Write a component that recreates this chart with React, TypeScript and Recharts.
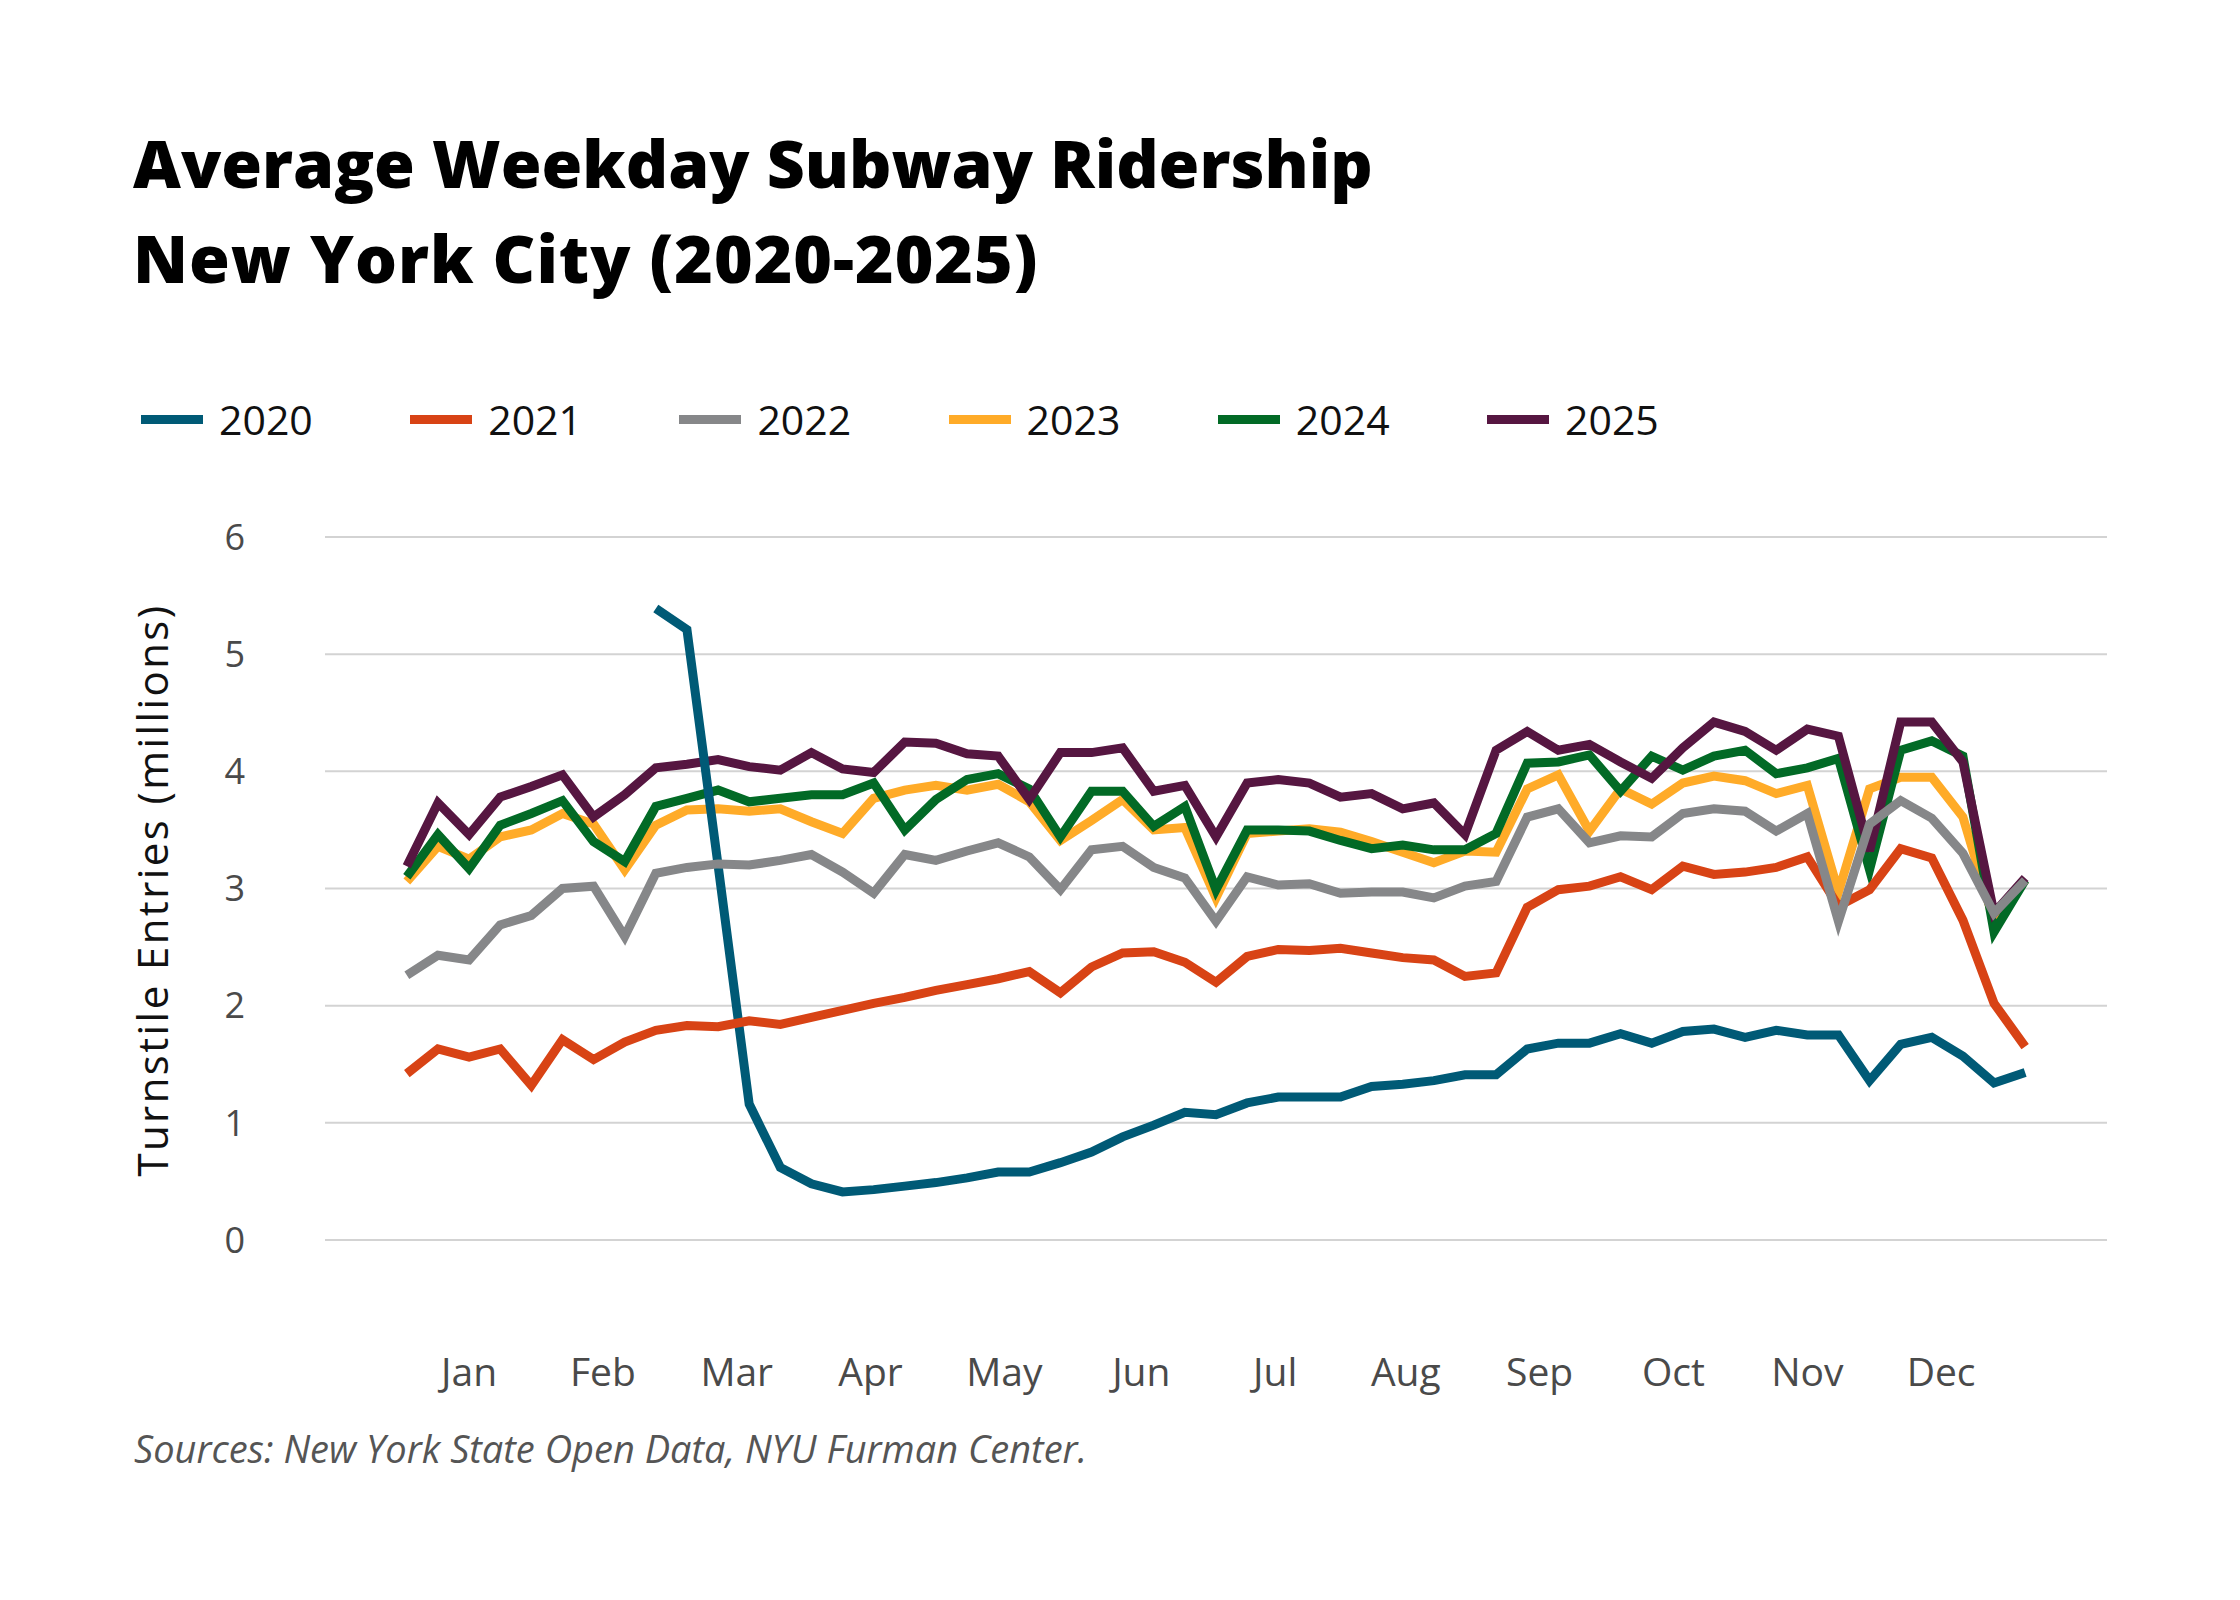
import React from "react";
import { LineChart, Line, XAxis, YAxis, CartesianGrid } from "recharts";

// weekly averages, week 0 = first week of January
const y2020 = [
  null, null, null, null, null, null, null, null, 5.39, 5.21,
  3.2, 1.16, 0.62, 0.48, 0.41, 0.43, 0.46, 0.49, 0.53, 0.58,
  0.58, 0.66, 0.75, 0.88, 0.98, 1.09, 1.07, 1.17, 1.22, 1.22,
  1.22, 1.31, 1.33, 1.36, 1.41, 1.41, 1.63, 1.68, 1.68, 1.76,
  1.68, 1.78, 1.8, 1.73, 1.79, 1.75, 1.75, 1.36, 1.67, 1.73,
  1.57, 1.34, 1.43,
];
const y2021 = [
  1.42, 1.63, 1.56, 1.63, 1.32, 1.71, 1.54, 1.69, 1.79, 1.83,
  1.82, 1.87, 1.84, 1.9, 1.96, 2.02, 2.07, 2.13, 2.18, 2.23,
  2.29, 2.11, 2.33, 2.45, 2.46, 2.37, 2.2, 2.42, 2.48, 2.47,
  2.49, 2.45, 2.41, 2.39, 2.25, 2.28, 2.84, 2.99, 3.02, 3.1,
  2.99, 3.19, 3.12, 3.14, 3.18, 3.27, 2.85, 2.99, 3.34, 3.26,
  2.73, 2.02, 1.65,
];
const y2022 = [
  2.26, 2.43, 2.39, 2.69, 2.77, 3.0, 3.02, 2.59, 3.13, 3.18,
  3.21, 3.2, 3.24, 3.29, 3.14, 2.96, 3.29, 3.24, 3.32, 3.39,
  3.27, 2.99, 3.33, 3.36, 3.18, 3.09, 2.72, 3.1, 3.03, 3.04,
  2.96, 2.97, 2.97, 2.92, 3.02, 3.06, 3.61, 3.68, 3.39, 3.45,
  3.44, 3.64, 3.68, 3.66, 3.49, 3.64, 2.72, 3.55, 3.75, 3.6,
  3.3, 2.79, 3.07,
];
const y2023 = [
  3.06, 3.36, 3.25, 3.44, 3.5, 3.64, 3.55, 3.16, 3.54, 3.67,
  3.68, 3.66, 3.68, 3.57, 3.47, 3.77, 3.84, 3.88, 3.84, 3.89,
  3.74, 3.41, 3.58, 3.76, 3.5, 3.52, 2.92, 3.47, 3.49, 3.51,
  3.48, 3.4, 3.31, 3.22, 3.32, 3.31, 3.85, 3.97, 3.49, 3.85,
  3.72, 3.9, 3.96, 3.92, 3.81, 3.88, 2.97, 3.85, 3.95, 3.95,
  3.61, 2.72, 3.07,
];
const y2024 = [
  3.1, 3.46, 3.17, 3.54, 3.64, 3.75, 3.4, 3.23, 3.7, 3.77,
  3.84, 3.74, 3.77, 3.8, 3.8, 3.9, 3.5, 3.76, 3.93, 3.98,
  3.85, 3.44, 3.83, 3.83, 3.53, 3.7, 2.99, 3.5, 3.5, 3.49,
  3.41, 3.34, 3.37, 3.33, 3.33, 3.47, 4.07, 4.08, 4.14, 3.83,
  4.13, 4.01, 4.13, 4.18, 3.98, 4.03, 4.11, 3.16, 4.18, 4.26,
  4.13, 2.63, 3.07,
];
const y2025 = [
  3.19, 3.73, 3.46, 3.78, 3.87, 3.97, 3.61, 3.8, 4.03, 4.06,
  4.1, 4.04, 4.01, 4.16, 4.02, 3.99, 4.25, 4.24, 4.15, 4.13,
  3.76, 4.16, 4.16, 4.2, 3.83, 3.88, 3.44, 3.9, 3.93, 3.9,
  3.78, 3.81, 3.68, 3.73, 3.46, 4.18, 4.34, 4.18, 4.23, 4.08,
  3.94, 4.2, 4.42, 4.34, 4.18, 4.36, 4.3, 3.32, 4.42, 4.42,
  4.08, 2.79, 3.09,
];

const months = ["Jan", "Feb", "Mar", "Apr", "May", "Jun", "Jul", "Aug", "Sep", "Oct", "Nov", "Dec"];
// mid-month position, in weeks
const monthTicks = [2, 6.3, 10.6, 14.9, 19.2, 23.6, 27.9, 32.1, 36.4, 40.7, 45, 49.3];
const yTicks = [0, 1, 2, 3, 4, 5, 6];

const series = [
  { key: "2020", values: y2020, color: "#005a76" },
  { key: "2021", values: y2021, color: "#d84315" },
  { key: "2022", values: y2022, color: "#868789" },
  { key: "2023", values: y2023, color: "#ffab28" },
  { key: "2024", values: y2024, color: "#026a26" },
  { key: "2025", values: y2025, color: "#561641" },
];
// paint order seen in the picture
const drawOrder = ["2023", "2024", "2025", "2020", "2021", "2022"];

const data = y2021.map((_, i) => {
  const row: any = { week: i };
  series.forEach((s) => {
    row[s.key] = s.values[i];
  });
  return row;
});

const font = "'Open Sans', sans-serif";

export default function App() {
  return (
    <div style={{ position: "relative", width: 2240, height: 1600, background: "#fff", fontFamily: font }}>
      <style>{`body{margin:0}`}</style>
      <div
        style={{
          position: "absolute",
          left: 133,
          top: 115,
          fontSize: 66,
          lineHeight: "95px",
          fontWeight: 800,
          color: "#000",
          whiteSpace: "nowrap",
        }}
      >
        <div>Average Weekday Subway Ridership</div>
        <div style={{ letterSpacing: 1 }}>New York City (2020-2025)</div>
      </div>

      {series.map((s, k) => (
        <div
          key={s.key}
          style={{
            position: "absolute",
            left: 141 + k * 269.2,
            top: 399,
            height: 40,
            display: "flex",
            alignItems: "center",
          }}
        >
          <div style={{ width: 62, height: 9, background: s.color, marginRight: 16 }} />
          <span style={{ fontSize: 41, lineHeight: "40px", color: "#111" }}>{s.key}</span>
        </div>
      ))}

      <div
        style={{
          position: "absolute",
          left: 152 - 350,
          top: 890 - 30,
          width: 700,
          height: 60,
          lineHeight: "60px",
          textAlign: "center",
          fontSize: 42,
          letterSpacing: 2.4,
          color: "#111",
          transform: "rotate(-90deg)",
          whiteSpace: "nowrap",
        }}
      >
        Turnstile Entries (millions)
      </div>

      <div
        style={{
          position: "absolute",
          left: 134,
          top: 1423,
          fontSize: 38,
          lineHeight: "50px",
          fontStyle: "italic",
          color: "#555",
          whiteSpace: "nowrap",
        }}
      >
        Sources: New York State Open Data, NYU Furman Center.
      </div>

      <div style={{ position: "absolute", left: 0, top: 0 }}>
        <LineChart
          width={2240}
          height={1600}
          data={data}
          margin={{ top: 537, right: 133, bottom: 190, left: 225 }}
        >
          <CartesianGrid vertical={false} stroke="#d3d3d3" strokeWidth={2} />
          <XAxis
            dataKey="week"
            type="number"
            domain={[-2.63, 54.63]}
            ticks={monthTicks}
            interval={0}
            tickFormatter={(v: number) => months[monthTicks.indexOf(v)]}
            axisLine={false}
            tickLine={false}
            tickSize={0}
            tickMargin={118}
            height={170}
            tick={{ fontSize: 39, fill: "#4a4a4a", fontFamily: font }}
          />
          <YAxis
            domain={[0, 6]}
            ticks={yTicks}
            interval={0}
            axisLine={false}
            tickLine={false}
            tickSize={0}
            tickMargin={80}
            width={100}
            tick={{ fontSize: 36, fill: "#4a4a4a", fontFamily: font }}
          />
          {drawOrder.map((key) => {
            const s = series.find((x) => x.key === key)!;
            return (
              <Line
                key={key}
                type="linear"
                dataKey={key}
                stroke={s.color}
                strokeWidth={9}
                dot={false}
                activeDot={false}
                isAnimationActive={false}
              />
            );
          })}
        </LineChart>
      </div>
    </div>
  );
}
